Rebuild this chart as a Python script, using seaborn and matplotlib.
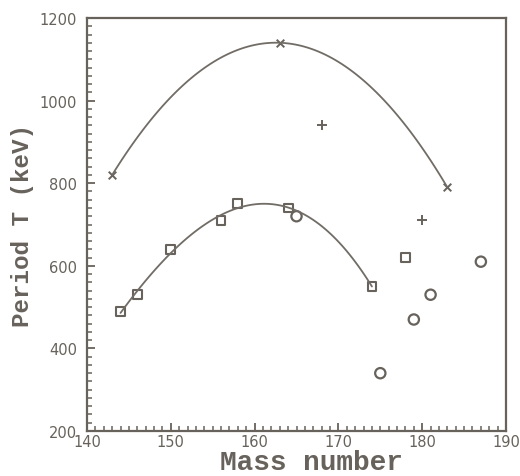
import numpy as np
import pandas as pd
import matplotlib
matplotlib.use("Agg")
import matplotlib.pyplot as plt
import seaborn as sns
from matplotlib.ticker import MultipleLocator

# Data
cross_A = [143, 163, 183]
cross_T = [820, 1140, 790]
plus_A = [168, 180]
plus_T = [940, 710]
square_A = [144, 146, 150, 156, 158, 164, 174, 178]
square_T = [490, 530, 640, 710, 750, 740, 550, 620]
circle_A = [165, 175, 179, 181, 187]
circle_T = [720, 340, 470, 530, 610]
# squares joined by the lower fitted curve
fit_A = [144, 146, 150, 156, 158, 164, 174]
fit_T = [490, 530, 640, 710, 750, 740, 550]

x_ticks = [140, 150, 160, 170, 180, 190]
y_ticks = [200, 400, 600, 800, 1000, 1200]

sns.set_style("white")
ink = "#67625b"
line_c = "#716c66"

fig = plt.figure(figsize=(5.2, 4.77), dpi=100)
ax = fig.add_axes([0.1673, 0.0943, 0.8058, 0.8659])

sns.regplot(x=cross_A, y=cross_T, order=2, ci=None, scatter=False, truncate=True,
            ax=ax, line_kws=dict(color=line_c, lw=1.3))
sns.regplot(x=fit_A, y=fit_T, order=3, ci=None, scatter=False, truncate=True,
            ax=ax, line_kws=dict(color=line_c, lw=1.3))

sns.scatterplot(x=cross_A, y=cross_T, marker="x", s=30, color=ink, linewidth=1.4, ax=ax)
sns.scatterplot(x=plus_A, y=plus_T, marker="+", s=45, color=ink, linewidth=1.4, ax=ax)
sns.scatterplot(x=square_A, y=square_T, marker="s", s=40, facecolor="none",
                edgecolor=ink, linewidth=1.5, ax=ax)
sns.scatterplot(x=circle_A, y=circle_T, marker="o", s=55, facecolor="none",
                edgecolor=ink, linewidth=1.6, ax=ax)

ax.set_xlim(140, 190)
ax.set_ylim(200, 1200)
ax.set_xticks(x_ticks)
ax.set_yticks(y_ticks)
ax.xaxis.set_minor_locator(MultipleLocator(1))
ax.yaxis.set_minor_locator(MultipleLocator(20))
ax.tick_params(which="both", direction="in", color=ink, bottom=True, left=True,
               top=False, right=False, labelcolor=ink, labelsize=10.5)
ax.tick_params(which="major", length=6, width=1.3)
ax.tick_params(which="minor", length=3.5, width=1.1)
ax.tick_params(axis="x", pad=2)
ax.tick_params(axis="y", pad=7)
for lab in ax.get_xticklabels() + ax.get_yticklabels():
    lab.set_family("DejaVu Sans")

for sp in ax.spines.values():
    sp.set_color(ink)
    sp.set_linewidth(1.6)

ax.set_xlabel("Mass number", family="Liberation Mono", fontweight="bold",
              fontsize=20, color=ink, x=0.535, labelpad=0)
ax.set_ylabel("Period T (keV)", family="Liberation Mono", fontweight="bold",
              fontsize=17.5, color=ink, labelpad=4)

fig.savefig("out.png", dpi=100, facecolor="white")
